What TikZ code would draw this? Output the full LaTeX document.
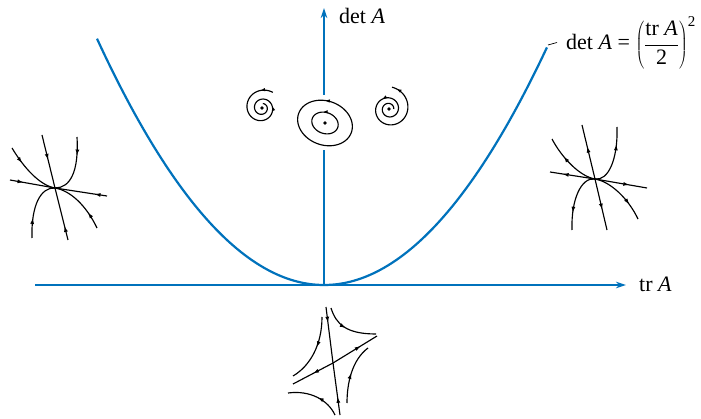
\documentclass[tikz,border=0pt]{standalone}
\usepackage{fontspec}
\setmainfont{Liberation Serif}
\usetikzlibrary{arrows.meta,decorations.markings}
\definecolor{axblue}{RGB}{0,114,188}
\begin{document}
\begin{tikzpicture}[x=1pt,y=-1pt,
  axisline/.style={axblue, line width=1.2pt},
  axisarrow/.style={axblue, line width=1.2pt, -{Stealth[length=10pt,width=6.5pt]}},
  para/.style={axblue, line width=2.2pt},
  traj/.style={black, line width=1.15pt},
  arr/.style={postaction={decorate,decoration={markings,mark=at position #1 with {\arrow{Latex[length=6pt,width=4pt]}}}}},
  sarr/.style={postaction={decorate,decoration={markings,mark=at position #1 with {\arrow{Latex[length=5pt,width=3.5pt]}}}}},
  lbl/.style={font=\fontsize{22}{26}\selectfont, inner sep=0pt},
  dot/.style={circle, fill=black, inner sep=0pt, minimum size=3.6pt}
]
\useasboundingbox (0,0) rectangle (701,419);

% axes
\coordinate (O) at (324,285);
\coordinate (xs) at (35,285);
\coordinate (xe) at (626,285);
\coordinate (yb1) at (324,150);
\coordinate (yt1) at (324,95);
\coordinate (ye) at (324,8);
\draw[axisarrow] (xs) -- (xe);
\draw[axisline] (O) -- (yb1);
\draw[axisarrow] (yt1) -- (ye);

% parabola
\draw[para] plot[domain=-2.27:2.23, samples=120, variable=\t] ({324+100*\t},{285-47.8*\t*\t});

% labels
\node[lbl, anchor=base west] (detlbl) at (339,24) {det \textit{A}};
\node[lbl, anchor=base west] (trlbl) at (639,292) {tr \textit{A}};
\coordinate (lead1) at (548,45);
\coordinate (lead2) at (557,42.5);
\draw[black, line width=0.7pt] (lead1) -- (lead2);
\node[lbl, anchor=base west] (formula) at (566,50) {det \textit{A} = $\displaystyle\left(\frac{\mbox{tr \textit{A}}}{\mbox{2}}\right)^{\mbox{\fontsize{15}{17}\selectfont 2}}$};

% ---------- centre: ellipses ----------
\node[dot] (ce) at (325,123) {};
\begin{scope}[shift={(ce)}, rotate=-20]
  \draw[traj, sarr=0.3] plot[domain=0:360, samples=90, variable=\t] ({28*cos(\t)},{-22*sin(\t)});
  \draw[traj, sarr=0.33] plot[domain=0:360, samples=60, variable=\t] ({13.5*cos(\t)},{-10.5*sin(\t)});
\end{scope}

% ---------- left spiral (inward) ----------
\node[dot] (ls) at (262,108) {};
\draw[traj, sarr=0.1, sarr=0.6] plot[domain=55:800, samples=200, variable=\t]
  ({262+19*pow(2,-(\t-55)/360)*cos(\t)},{108-19*pow(2,-(\t-55)/360)*sin(\t)});

% ---------- right spiral (outward) ----------
\node[dot] (rs) at (389,109) {};
\draw[traj, sarr=0.42, sarr=0.97] plot[domain=0:802, samples=200, variable=\t]
  ({389+22*pow(2,(\t-802)/360)*cos(\t)},{109-22*pow(2,(\t-802)/360)*sin(\t)});

% ---------- left node (stable) ----------
\coordinate (L) at (55,188);
\coordinate (La) at (42,135);
\coordinate (Lb) at (68,240);
\coordinate (Lc) at (10,180);
\coordinate (Ld) at (107,196);
\draw[traj, arr=0.47] (La) -- (L);
\draw[traj, arr=0.27] (Lb) -- (L);
\draw[traj, arr=0.3] (Lc) -- (L);
\draw[traj, arr=0.24] (Ld) -- (L);
\coordinate (Le) at (12,148);
\coordinate (Lf) at (77,137);
\coordinate (Lg) at (32,238);
\coordinate (Lh) at (97,228);
\draw[traj, arr=0.3] (Le) .. controls (24,168) and (40,185.5) .. (L);
\draw[traj, arr=0.3] (Lf) .. controls (79,172) and (70,188) .. (L);
\draw[traj, arr=0.33] (Lg) .. controls (31,205) and (41,187) .. (L);
\draw[traj, arr=0.3] (Lh) .. controls (86,205) and (70,190.5) .. (L);

% ---------- right node (unstable) ----------
\coordinate (R) at (595,179);
\coordinate (Ra) at (582,125);
\coordinate (Rb) at (607,230);
\coordinate (Rc) at (550,172);
\coordinate (Rd) at (647,188);
\draw[traj, arr=0.6] (R) -- (Ra);
\draw[traj, arr=0.6] (R) -- (Rb);
\draw[traj, arr=0.72] (R) -- (Rc);
\draw[traj, arr=0.66] (R) -- (Rd);
\coordinate (Re) at (552,139);
\coordinate (Rf) at (617,127);
\coordinate (Rg) at (572,230);
\coordinate (Rh) at (638,219);
\draw[traj, arr=0.65] (R) .. controls (580,176.5) and (562,158) .. (Re);
\draw[traj, arr=0.72] (R) .. controls (608,181) and (618,160) .. (Rf);
\draw[traj, arr=0.72] (R) .. controls (581,177) and (571,200) .. (Rg);
\draw[traj, arr=0.72] (R) .. controls (610,181.5) and (628,198) .. (Rh);

% ---------- saddle ----------
\coordinate (S) at (333,363);
\coordinate (Sa) at (326,307);
\coordinate (Sb) at (340,415);
\coordinate (Sc) at (293,384);
\coordinate (Sd) at (377,336);
\draw[traj, arr=0.28] (Sa) -- (S);
\draw[traj, arr=0.35] (Sb) -- (S);
\draw[traj, arr=0.5] (S) -- (Sc);
\draw[traj, arr=0.63] (S) -- (Sd);
\coordinate (Se) at (331,308);
\coordinate (Sf) at (376,334);
\coordinate (Sg) at (322,317);
\coordinate (Sh) at (293,376);
\coordinate (Si) at (347,403);
\coordinate (Sj) at (368,348);
\coordinate (Sk) at (335,415);
\coordinate (Sl) at (288,393);
\draw[traj, arr=0.45] (Se) .. controls (336,324) and (346,334) .. (Sf);
\draw[traj, arr=0.45] (Sg) .. controls (322,345) and (310,366) .. (Sh);
\draw[traj, arr=0.5] (Si) .. controls (347,383) and (352,360) .. (Sj);
\draw[traj, arr=0.45] (Sk) .. controls (328,400) and (310,390) .. (Sl);
\end{tikzpicture}
\end{document}
